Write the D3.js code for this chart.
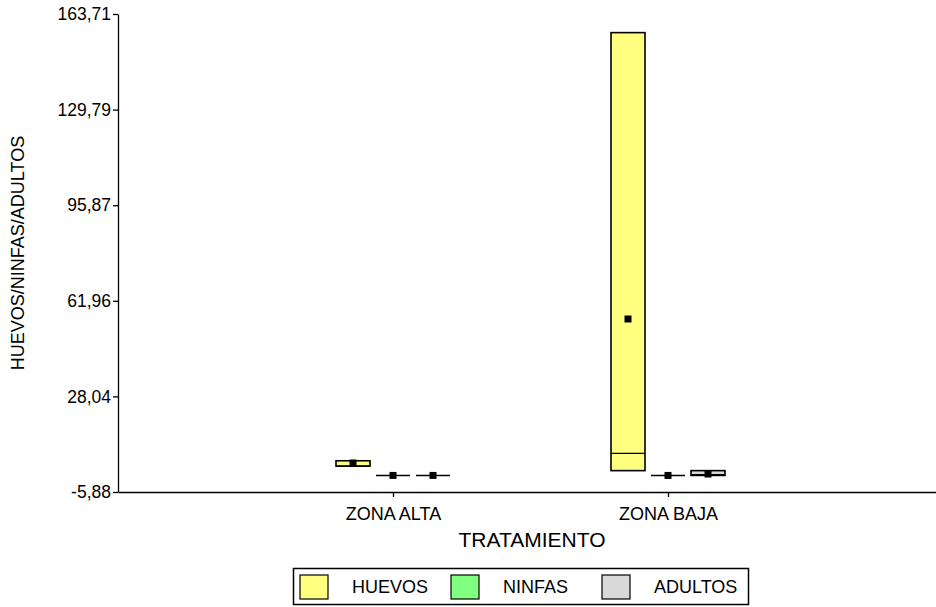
<!DOCTYPE html>
<html>
<head>
<meta charset="utf-8">
<script src="https://cdn.jsdelivr.net/npm/d3@7"></script>
<style>
  body { margin: 0; background: #fff; }
  svg { display: block; font-family: "Liberation Sans", Arial, sans-serif; }
</style>
</head>
<body>
<div id="chart"></div>
<script>
// Categories and series
const zonas = ["ZONA ALTA", "ZONA BAJA"];
const series = ["HUEVOS", "NINFAS", "ADULTOS"];
const colors = ["#ffff80", "#80ff80", "#d9d9d9"];
const yTicks = [-5.88, 28.04, 61.96, 95.87, 129.79, 163.71];

// box values per zona: [HUEVOS, NINFAS, ADULTOS]
const q1 = [[3.3, 0, 0], [1.7, 0, 0]];
const median = [[3.3, 0, 0], [7.8, 0, 0.3]];
const q3 = [[5.2, 0, 0], [157.1, 0, 1.7]];
const mean = [[4.4, 0, 0], [55.5, 0, 0.5]];

const width = 936;
const height = 607;
const marginLeft = 118;
const yTop = 14;
const yBottom = 492;
const font = "Liberation Sans, Arial, sans-serif";

const x = d3.scalePoint(zonas, [marginLeft, 943]).padding(1);
const xInner = d3.scaleBand(series, [-60, 60]);
const boxW = 34;

const y = d3.scaleLinear([-5.88, 163.71], [yBottom, yTop]);

const svg = d3.create("svg").attr("width", width).attr("height", height);

// boxes
const boxes = [];
zonas.forEach((z, i) => {
  series.forEach((s, j) => {
    boxes.push({ z, s, j, q1: q1[i][j], med: median[i][j], q3: q3[i][j], mean: mean[i][j] });
  });
});

const g = svg.append("g");
boxes.forEach((d) => {
  const cx = x(d.z) + xInner(d.s) + xInner.bandwidth() / 2;
  const top = y(d.q3);
  const bot = y(d.q1);
  if (bot - top > 0.5) {
    g.append("rect")
      .attr("x", cx - boxW / 2)
      .attr("y", top)
      .attr("width", boxW)
      .attr("height", bot - top)
      .attr("fill", colors[d.j])
      .attr("stroke", "#000")
      .attr("stroke-width", 1.6);
    g.append("line")
      .attr("x1", cx - boxW / 2)
      .attr("x2", cx + boxW / 2)
      .attr("y1", y(d.med))
      .attr("y2", y(d.med))
      .attr("stroke", "#000")
      .attr("stroke-width", 1.2);
  } else {
    g.append("line")
      .attr("x1", cx - boxW / 2)
      .attr("x2", cx + boxW / 2)
      .attr("y1", y(d.q1))
      .attr("y2", y(d.q1))
      .attr("stroke", "#000")
      .attr("stroke-width", 1.5);
  }
  // mean marker
  g.append("rect")
    .attr("x", cx - 3.5)
    .attr("y", y(d.mean) - 3.5)
    .attr("width", 7)
    .attr("height", 7)
    .attr("fill", "#000");
});

// y axis
svg.append("g")
  .attr("transform", `translate(${marginLeft},0)`)
  .call(d3.axisLeft(y).tickValues(yTicks).tickSize(5).tickPadding(2).tickSizeOuter(0)
    .tickFormat((d) => d.toFixed(2).replace(".", ",")))
  .call((a) => a.selectAll("text").attr("font-size", 17.5).attr("font-family", font).attr("fill", "#000"))
  .call((a) => a.selectAll("line, path").attr("stroke", "#000").attr("stroke-width", 1.3));

// x axis
svg.append("g")
  .attr("transform", `translate(0,${yBottom})`)
  .call(d3.axisBottom(x).tickSize(5).tickSizeOuter(0))
  .call((a) => a.selectAll("text").attr("font-size", 18).attr("font-family", font).attr("fill", "#000").attr("dy", "1.1em"))
  .call((a) => a.selectAll("line, path").attr("stroke", "#000").attr("stroke-width", 1.3));

// axis titles
svg.append("text")
  .attr("x", 532)
  .attr("y", 547)
  .attr("text-anchor", "middle")
  .attr("font-size", 21)
  .text("TRATAMIENTO");

svg.append("text")
  .attr("transform", `translate(24,253) rotate(-90)`)
  .attr("text-anchor", "middle")
  .attr("font-size", 18)
  .text("HUEVOS/NINFAS/ADULTOS");

// legend
const legend = svg.append("g");
legend.append("rect")
  .attr("x", 293.5).attr("y", 568.5)
  .attr("width", 455).attr("height", 36)
  .attr("fill", "none").attr("stroke", "#000").attr("stroke-width", 1.5);
const legendX = [300, 451, 602];
series.forEach((s, j) => {
  legend.append("rect")
    .attr("x", legendX[j]).attr("y", 575)
    .attr("width", 28).attr("height", 24)
    .attr("fill", colors[j]).attr("stroke", "#000").attr("stroke-width", 1.2);
  legend.append("text")
    .attr("x", legendX[j] + 52).attr("y", 593)
    .attr("font-size", 18)
    .text(s);
});

d3.select("#chart").node().appendChild(svg.node());
</script>
</body>
</html>
